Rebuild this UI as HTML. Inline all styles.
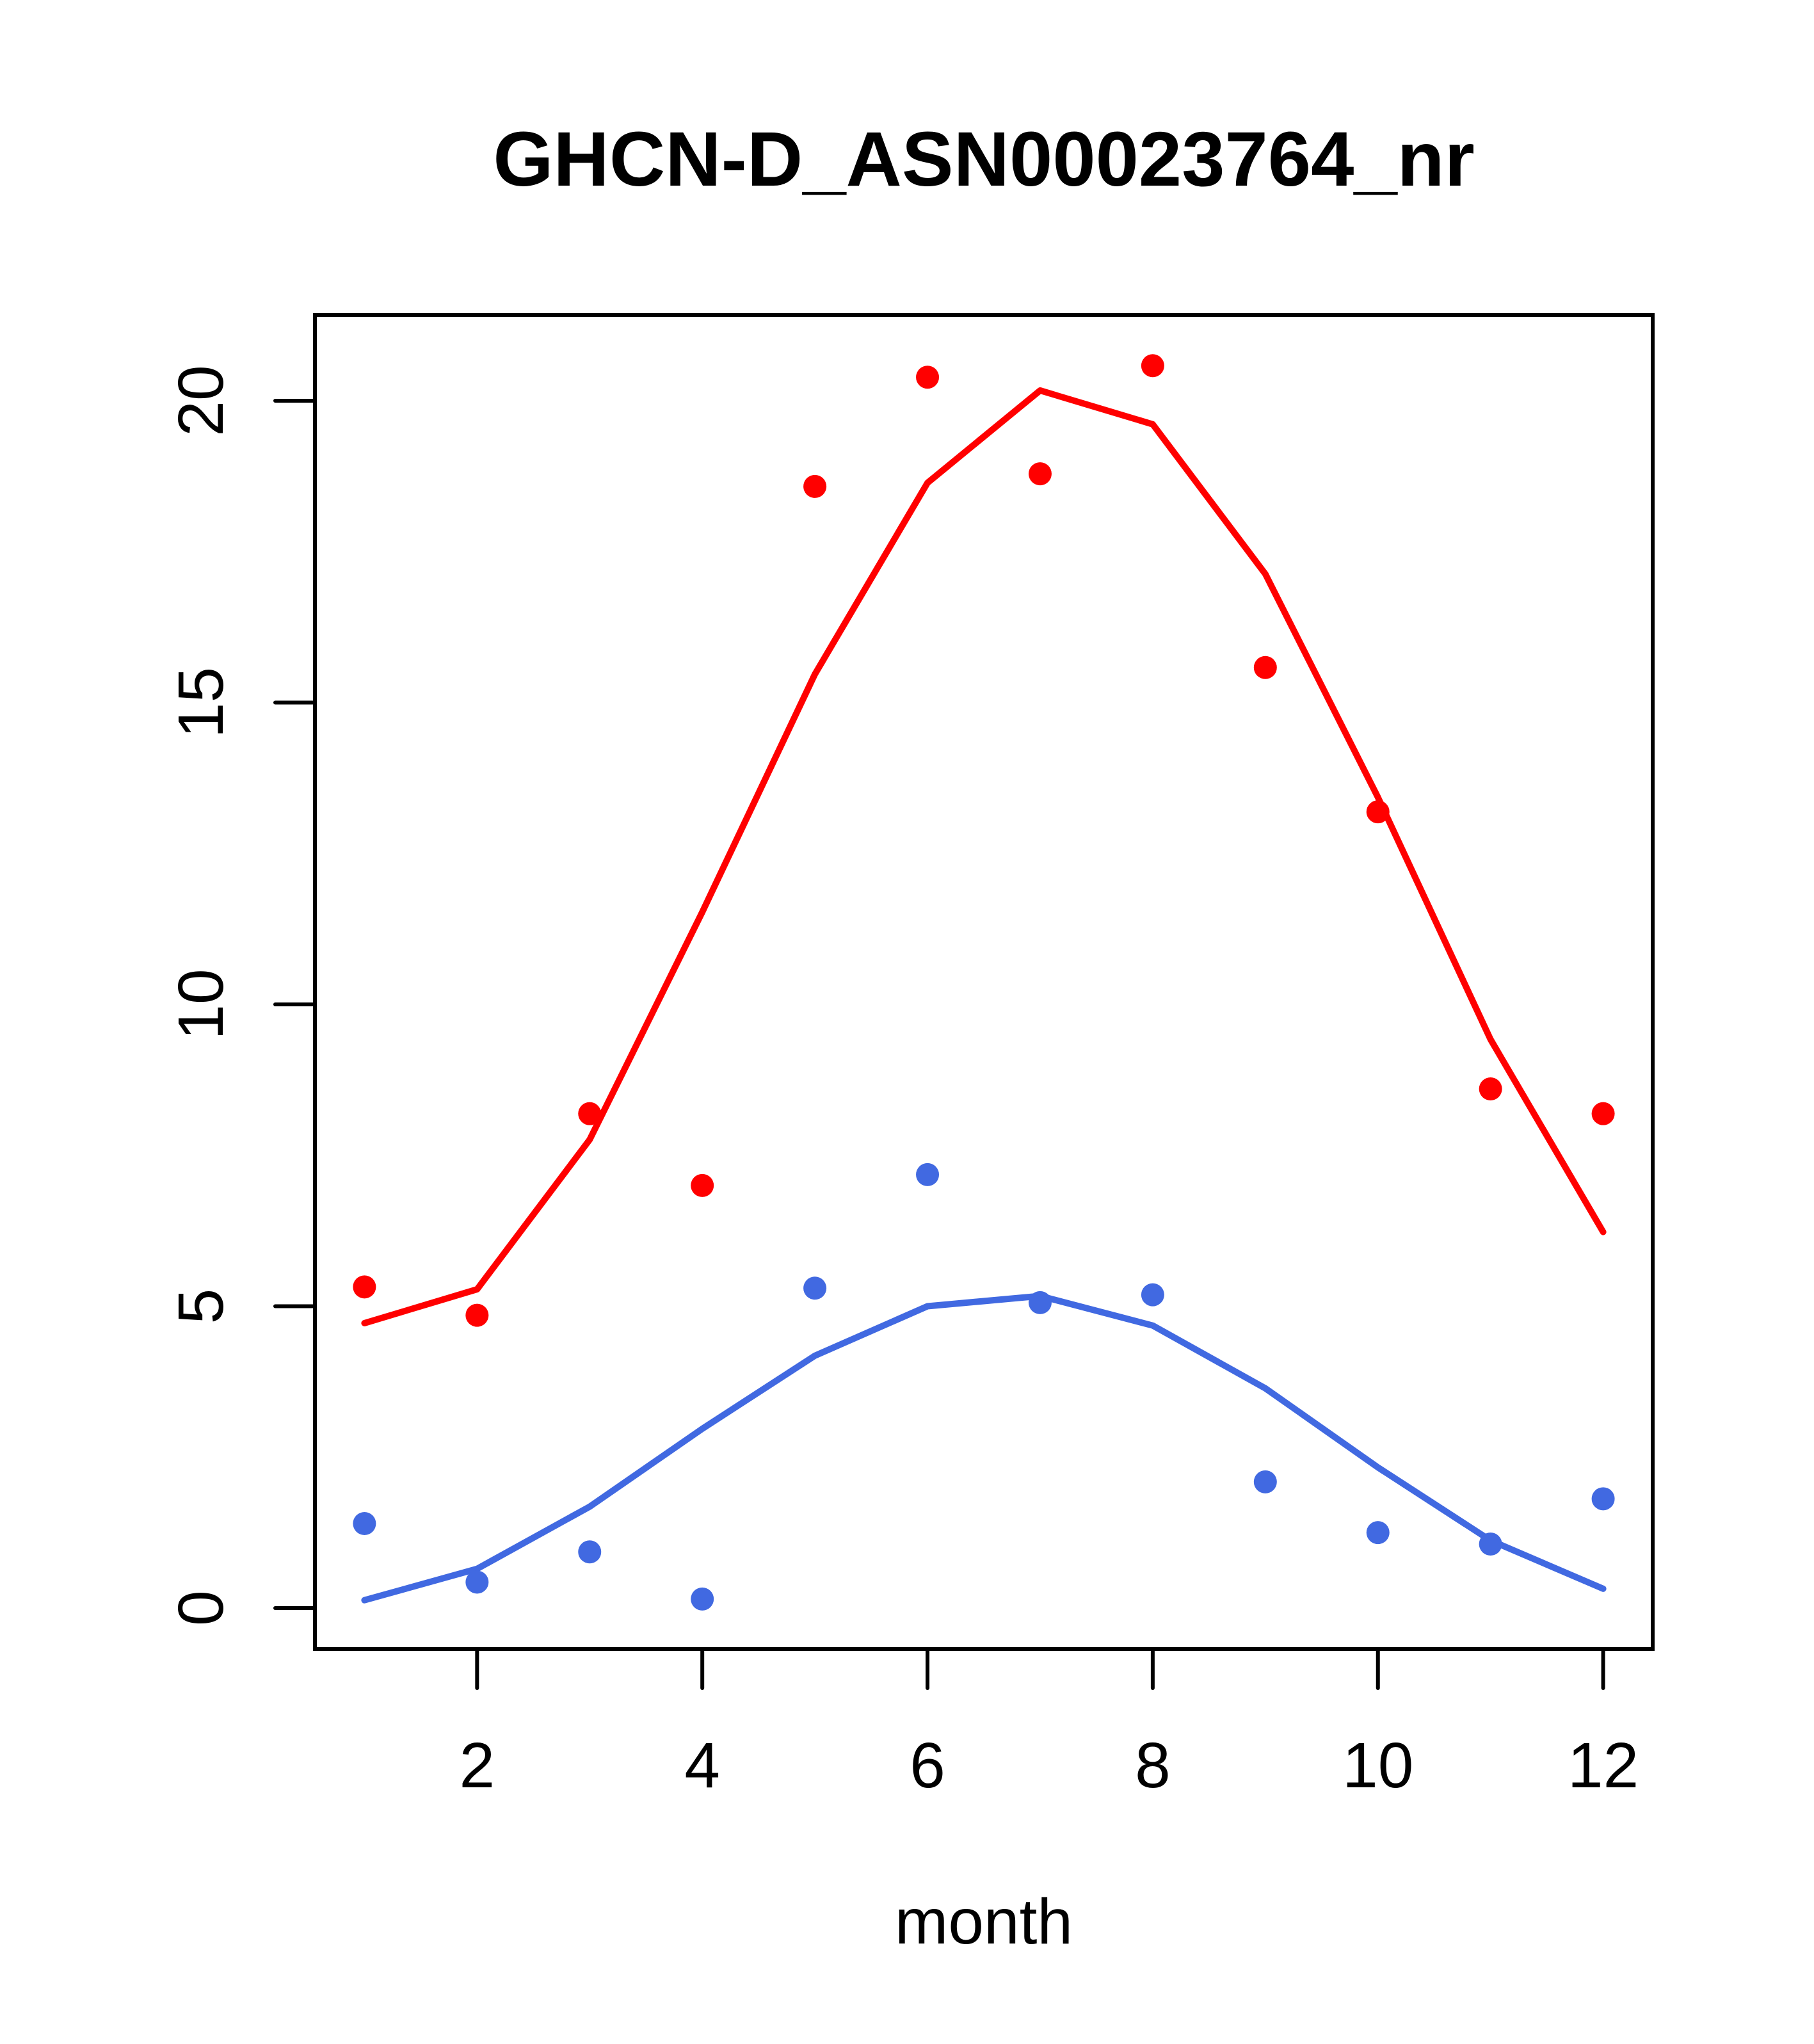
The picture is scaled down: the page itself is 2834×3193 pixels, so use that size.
<!DOCTYPE html>
<html><head><meta charset="utf-8"><style>html,body{margin:0;padding:0;background:#fff}</style></head>
<body>
<svg id="chart" width="2834" height="3188" xmlns="http://www.w3.org/2000/svg" style="font-family:'Liberation Sans',sans-serif">
<rect width="2834" height="3188" fill="#fff"/>
<text x="1537" y="290" font-size="121" font-weight="bold" text-anchor="middle">GHCN-D_ASN00023764_nr</text>
<rect x="492" y="492" width="2090" height="2084" fill="none" stroke="#000" stroke-width="6"/>
<g id="xaxis"></g>
<g id="yaxis"></g>
<text x="1537" y="3036" font-size="100" text-anchor="middle">month</text>
<g id="series"></g>
</svg>
<script>
const months = [1,2,3,4,5,6,7,8,9,10,11,12];
const redPoints = [5.32,4.85,8.19,7.0,18.58,20.39,18.79,20.58,15.58,13.19,8.6,8.19];
const redLine = [4.72,5.28,7.76,11.53,15.47,18.64,20.17,19.61,17.13,13.43,9.42,6.23];
const bluePoints = [1.4,0.43,0.93,0.15,5.3,7.18,5.06,5.19,2.09,1.25,1.06,1.81];
const blueLine = [0.13,0.65,1.68,2.97,4.18,5.0,5.17,4.68,3.64,2.33,1.12,0.32];
const xTicks = [2,4,6,8,10,12];
const yTicks = [0,5,10,15,20];

const NS = 'http://www.w3.org/2000/svg';
function X(v){ return 569.4 + (v-1)*(2504.6-569.4)/11; }
function Y(v){ return 2512 - v*(2512-626)/20; }
function mk(tag, attrs, parent){ const e=document.createElementNS(NS,tag); for(const k in attrs) e.setAttribute(k,attrs[k]); parent.appendChild(e); return e; }

const xa=document.getElementById('xaxis');
xTicks.forEach(t=>{
  const l=mk('line',{x1:X(t),x2:X(t),y1:2576,y2:2637,stroke:'#000','stroke-width':6,'stroke-linecap':'round'},xa);
  
  
  const tx=mk('text',{x:X(t),y:2792,'font-size':100,'text-anchor':'middle'},xa);
  
  
  tx.textContent=t;
});
const ya=document.getElementById('yaxis');
yTicks.forEach(t=>{
  const l=mk('line',{x1:430,x2:492,y1:Y(t),y2:Y(t),stroke:'#000','stroke-width':6,'stroke-linecap':'round'},ya);
  
  
  const tx=mk('text',{x:348,y:Y(t),'font-size':100,'text-anchor':'middle',transform:'rotate(-90 348 '+Y(t)+')'},ya);
  
  
  tx.textContent=t;
});
const sg=document.getElementById('series');
function drawLine(vals,color,name){
  const p=mk('polyline',{points:vals.map((v,i)=>X(months[i])+','+Y(v)).join(' '),fill:'none',stroke:color,'stroke-width':10,'stroke-linecap':'round','stroke-linejoin':'round'},sg);
  
  
}
function drawPts(vals,color,name){
  vals.forEach((v,i)=>{
    const c=mk('circle',{cx:X(months[i]),cy:Y(v),r:18,fill:color},sg);
    
    
  });
}
drawLine(redLine,'#FF0000','red-fit-line');
drawLine(blueLine,'#4169E1','blue-fit-line');
drawPts(redPoints,'#FF0000','red-point');
drawPts(bluePoints,'#4169E1','blue-point');
</script>
</body></html>
